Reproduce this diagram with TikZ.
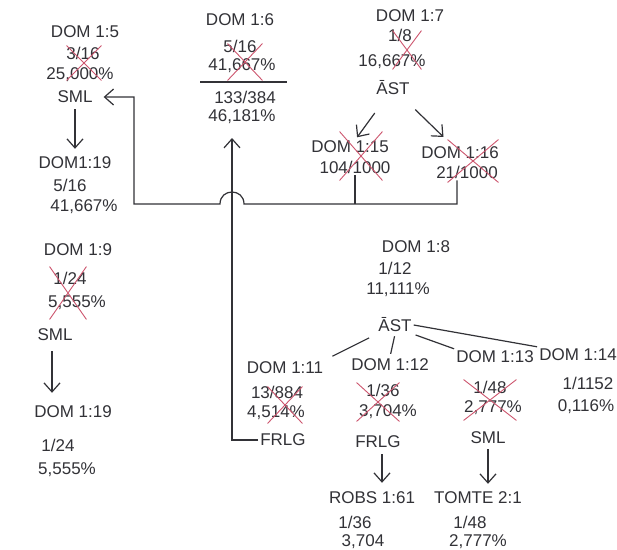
\documentclass[tikz,border=0pt]{standalone}
\usepackage{fontspec}
\setmainfont{Liberation Sans}
\usetikzlibrary{arrows.meta,shapes.misc}
\definecolor{ink}{RGB}{50,50,55}
\definecolor{redink}{RGB}{205,85,110}
\begin{document}
\begin{tikzpicture}[x=1pt,y=-1pt,
  t/.style={text=ink, font=\fontsize{17}{17}\selectfont, inner sep=2pt},
  ln/.style={draw=ink, line width=1.2pt},
  arr/.style={ln, -{Straight Barb[length=9pt,width=16pt]}},
  xo/.style={cross out, draw=redink, line width=0.9pt, inner sep=0pt}]
\useasboundingbox (0,0) rectangle (617,549);
\fill[white] (0,0) rectangle (617,549);
% column 1
\node[t] (d15) at (85,32) {DOM 1:5};
\node[t] (d15a) at (83,53) {3/16};
\node[t] (d15b) at (80,75) {25,000\%};
\node[t] (d15c) at (75,97) {SML};
\node[t] (d119a) at (75,163) {DOM1:19};
\node[t] (d119a1) at (70,185) {5/16};
\node[t] (d119a2) at (84,207) {41,667\%};
\node[t] (d19) at (78,250) {DOM 1:9};
\node[t] (d19a) at (70,278) {1/24};
\node[t] (d19b) at (77,303) {5,555\%};
\node[t] (d19c) at (55,335) {SML};
\node[t] (d119b) at (73,412) {DOM 1:19};
\node[t] (d119b1) at (58,445) {1/24};
\node[t] (d119b2) at (67,470) {5,555\%};
% column 2
\node[t] (d16) at (240,20) {DOM 1:6};
\node[t] (d16a) at (240,46) {5/16};
\node[t] (d16b) at (242,66) {41,667\%};
\node[t] (d16c) at (245,97) {133/384};
\node[t] (d16d) at (242,117) {46,181\%};
\draw[ln] (200,82) -- (287,82);
% column 3
\node[t] (d17) at (410,16) {DOM 1:7};
\node[t] (d17a) at (400,35) {1/8};
\node[t] (d17b) at (392,62) {16,667\%};
\node[t] (ast1) at (393,88) {\=AST};
\node[t] (d115) at (350,147) {DOM 1:15};
\node[t] (d115a) at (355,167) {104/1000};
\node[t] (d116) at (460,153) {DOM 1:16};
\node[t] (d116a) at (467,172) {21/1000};
% middle
\node[t] (d18) at (416,247) {DOM 1:8};
\node[t] (d18a) at (395,268) {1/12};
\node[t] (d18b) at (398,290) {11,111\%};
\node[t] (ast2) at (395,325) {\=AST};
\node[t] (d111) at (285,368) {DOM 1:11};
\node[t] (d111a) at (277,392) {13/884};
\node[t] (d111b) at (276,413) {4,514\%};
\node[t] (frlg1) at (283,440) {FRLG};
\node[t] (d112) at (390,365) {DOM 1:12};
\node[t] (d112a) at (383,390) {1/36};
\node[t] (d112b) at (388,412) {3,704\%};
\node[t] (frlg2) at (378,442) {FRLG};
\node[t] (d113) at (495,357) {DOM 1:13};
\node[t] (d113a) at (490,387) {1/48};
\node[t] (d113b) at (493,408) {2,777\%};
\node[t] (sml3) at (488,438) {SML};
\node[t] (d114) at (578,355) {DOM 1:14};
\node[t] (d114a) at (588,383) {1/1152};
\node[t] (d114b) at (586,407) {0,116\%};
% bottom
\node[t] (robs) at (372,498) {ROBS 1:61};
\node[t] (robsa) at (355,522) {1/36};
\node[t] (robsb) at (363,542) {3,704};
\node[t] (tomte) at (478,498) {TOMTE 2:1};
\node[t] (tomtea) at (470,522) {1/48};
\node[t] (tomteb) at (478,542) {2,777\%};
% bus and connectors
\coordinate (busL) at (134,204);
\coordinate (jumpR) at (244,204);
\coordinate (jumpL) at (220,204);
\coordinate (vtop) at (232,138);
\draw[arr, shorten >=9pt] ([xshift=-10pt]d116a.south) |- (jumpR)
  .. controls +(0,-16) and +(0,-16) .. (jumpL) -- (busL) |- (d15c.east);
\draw[ln] (d115a.south) -- (d115a.south |- busL);
\draw[arr] (frlg1.west) -| (vtop);
\draw[arr, shorten <=4pt, shorten >=6pt] (d15c.south) -- (d119a.north);
\draw[arr, shorten <=8pt, shorten >=11pt] ([xshift=-3pt]d19c.south) -- ([xshift=-3pt]d19c.south |- d119b.north);
\draw[arr, shorten <=4pt, shorten >=7pt] ([xshift=4pt]frlg2.south) -- ([xshift=4pt]frlg2.south |- robs.north);
\draw[arr, shorten <=3pt, shorten >=6pt] (sml3.south) -- (sml3.south |- tomte.north);
\draw[arr, shorten <=31pt, shorten >=12pt] (ast1.center) -- (d115.center);
\draw[arr, shorten <=31pt, shorten >=23pt] (ast1.center) -- (d116.center);
\draw[ln, shorten <=8pt, shorten >=8pt] (ast2.south west) -- (d111.north east);
\draw[ln, shorten <=2pt, shorten >=3pt] (ast2.south) -- (d112.north);
\draw[ln, shorten <=2pt] (ast2.south east) -- (d113.north west);
\draw[ln] (ast2.east) -- (d114.north west);
% red crosses
\node[xo, minimum width=34pt, minimum height=34pt] (x1) at (84,63) {};
\node[xo, minimum width=34pt, minimum height=36pt] (x2) at (245,62) {};
\node[xo, minimum width=28pt, minimum height=38pt] (x3) at (407,50) {};
\node[xo, minimum width=42pt, minimum height=48pt] (x4) at (361,156) {};
\node[xo, minimum width=50pt, minimum height=42pt] (x5) at (473,161) {};
\node[xo, minimum width=36pt, minimum height=52pt] (x6) at (68,293) {};
\node[xo, minimum width=34pt, minimum height=36pt] (x7) at (285,405) {};
\node[xo, minimum width=42pt, minimum height=38pt] (x8) at (378,402) {};
\node[xo, minimum width=52pt, minimum height=40pt] (x9) at (490,400) {};
\end{tikzpicture}
\end{document}
